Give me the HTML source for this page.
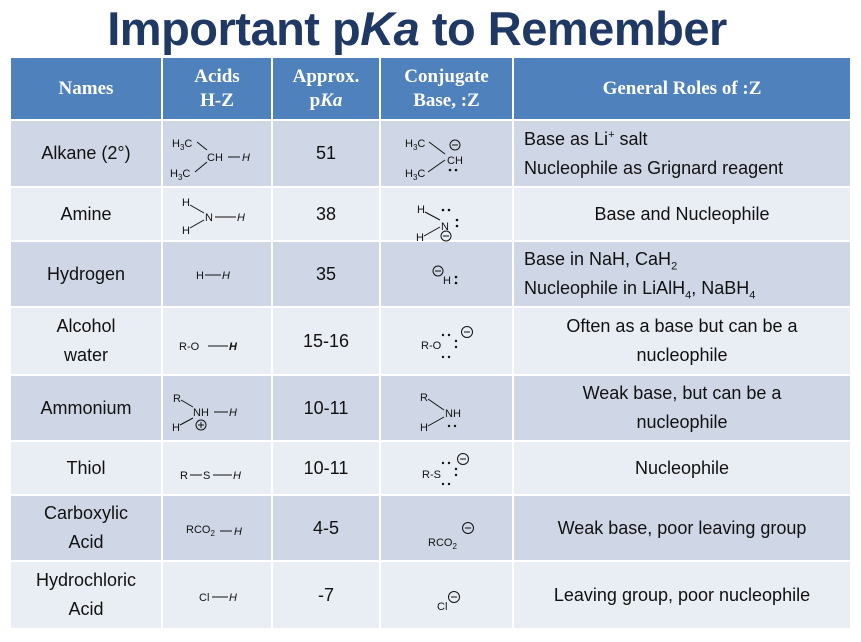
<!DOCTYPE html>
<html><head><meta charset="utf-8">
<style>
body{margin:0;width:861px;height:642px;background:#fff;position:relative;overflow:hidden;font-family:"Liberation Sans",sans-serif;}
.title{position:absolute;left:0;top:1px;width:834px;text-align:center;font-weight:bold;font-size:47px;color:#1f3864;letter-spacing:-0.5px;}
.c{position:absolute;box-sizing:border-box;display:flex;align-items:center;justify-content:center;text-align:center;color:#111;font-size:18px;line-height:29px;}
.c>span{display:block;}
.h{background:#4f81bd;color:#fff;font-family:"Liberation Serif",serif;font-weight:bold;font-size:19px;line-height:24px;}
.d{background:#cfd7e7;}
.l{background:#e9edf4;}
.left{justify-content:flex-start;text-align:left;padding-left:10px;}
sub,sup{font-size:11px;line-height:0;}
svg{position:absolute;left:0;top:0;}
svg text{font-family:"Liberation Sans",sans-serif;font-size:11px;fill:#111;}
</style></head><body>
<div class="title">Important p<i>Ka</i> to Remember</div>
<div id="tbl"></div>
<script>
var cols=[10,162,272,380,513,851];
var rows=[57,120,187,241,307,375,441,495,561,629];
var headers=['Names','Acids<br>H-Z','Approx.<br>p<i>Ka</i>','Conjugate<br>Base, :Z','General Roles of :Z'];
var names=['Alkane (2°)','Amine','Hydrogen','Alcohol<br>water','Ammonium','Thiol','Carboxylic<br>Acid','Hydrochloric<br>Acid'];
var pkas=['51','38','35','15-16','10-11','10-11','4-5','-7'];
var roles=['Base as Li<sup>+</sup> salt<br>Nucleophile as Grignard reagent','Base and Nucleophile','Base in NaH, CaH<sub>2</sub><br>Nucleophile in LiAlH<sub>4</sub>, NaBH<sub>4</sub>','Often as a base but can be a<br>nucleophile','Weak base, but can be a<br>nucleophile','Nucleophile','Weak base, poor leaving group','Leaving group, poor nucleophile'];
var leftRole=[true,false,true,false,false,false,false,false];
var tbl=document.getElementById('tbl');
function cell(ci,ri,html,cls,name){
  var d=document.createElement('div');
  d.className='c '+cls;
  d.style.left=(cols[ci]+1)+'px';d.style.top=(rows[ri]+1)+'px';
  d.style.width=(cols[ci+1]-cols[ci]-2)+'px';d.style.height=(rows[ri+1]-rows[ri]-2)+'px';
  d.innerHTML='<span>'+html+'</span>';
  
  
  tbl.appendChild(d);
}
for(var i=0;i<5;i++)cell(i,0,headers[i],'h','header-cell');
for(var r=0;r<8;r++){
  var bg=(r%2==0)?'d':'l';
  cell(0,r+1,names[r],bg,'name-cell');
  cell(1,r+1,'',bg,'acid-structure-cell');
  cell(2,r+1,pkas[r],bg,'pka-cell');
  cell(3,r+1,'',bg,'base-structure-cell');
  cell(4,r+1,roles[r],bg+(leftRole[r]?' left':''),'role-cell');
}
</script>
<svg width="861" height="642" stroke="#111" stroke-width="1" fill="none">
<text x="172" y="147" stroke="none">H<tspan font-size="8" dy="3">3</tspan><tspan dy="-3">C</tspan></text>
<text x="170" y="177" stroke="none">H<tspan font-size="8" dy="3">3</tspan><tspan dy="-3">C</tspan></text>
<line x1="197" y1="142" x2="207" y2="150"/><line x1="195" y1="172" x2="207" y2="162"/>
<text x="207" y="161" stroke="none">CH</text>
<line x1="228" y1="157" x2="240" y2="157"/>
<text x="242" y="161" stroke="none" font-style="italic">H</text>
<text x="405" y="147" stroke="none">H<tspan font-size="8" dy="3">3</tspan><tspan dy="-3">C</tspan></text>
<text x="405" y="177" stroke="none">H<tspan font-size="8" dy="3">3</tspan><tspan dy="-3">C</tspan></text>
<line x1="429" y1="142" x2="445" y2="154"/><line x1="428" y1="172" x2="445" y2="160"/>
<text x="447" y="164" stroke="none">CH</text>
<circle cx="455" cy="145" r="5"/><line x1="452" y1="145" x2="458" y2="145"/>
<circle cx="450" cy="170" r="1.3" fill="#111" stroke="none"/><circle cx="456" cy="170" r="1.3" fill="#111" stroke="none"/>
<text x="182" y="206" stroke="none">H</text><text x="182" y="234" stroke="none">H</text>
<line x1="190" y1="205" x2="204" y2="213"/><line x1="190" y1="228" x2="204" y2="220"/>
<text x="205" y="221" stroke="none">N</text>
<line x1="215" y1="217" x2="236" y2="217"/>
<text x="237" y="221" stroke="none" font-style="italic">H</text>
<text x="417" y="213" stroke="none">H</text><text x="416" y="241" stroke="none">H</text>
<line x1="425" y1="212" x2="440" y2="220"/><line x1="424" y1="236" x2="440" y2="227"/>
<text x="441" y="230" stroke="none">N</text>
<circle cx="443" cy="210" r="1.3" fill="#111" stroke="none"/><circle cx="449" cy="210" r="1.3" fill="#111" stroke="none"/>
<circle cx="457" cy="220" r="1.3" fill="#111" stroke="none"/><circle cx="457" cy="226" r="1.3" fill="#111" stroke="none"/>
<circle cx="446" cy="236" r="5"/><line x1="443" y1="236" x2="449" y2="236"/>
<text x="196" y="279" stroke="none">H</text><line x1="205" y1="275" x2="221" y2="275"/>
<text x="222" y="279" stroke="none" font-style="italic">H</text>
<circle cx="438" cy="271" r="5"/><line x1="435" y1="271" x2="441" y2="271"/>
<text x="443" y="284" stroke="none">H</text>
<circle cx="456" cy="277" r="1.3" fill="#111" stroke="none"/><circle cx="456" cy="283" r="1.3" fill="#111" stroke="none"/>
<text x="179" y="350" stroke="none">R-O</text><line x1="208" y1="346" x2="228" y2="346"/>
<text x="229" y="350" stroke="none" font-style="italic" font-weight="bold">H</text>
<text x="421" y="349" stroke="none">R-O</text>
<circle cx="443" cy="335" r="1.2" fill="#111" stroke="none"/><circle cx="449" cy="335" r="1.2" fill="#111" stroke="none"/>
<circle cx="443" cy="357" r="1.2" fill="#111" stroke="none"/><circle cx="449" cy="357" r="1.2" fill="#111" stroke="none"/>
<circle cx="456" cy="341" r="1.2" fill="#111" stroke="none"/><circle cx="456" cy="347" r="1.2" fill="#111" stroke="none"/>
<circle cx="467" cy="332" r="5.5"/><line x1="464" y1="332" x2="470" y2="332"/>
<text x="173" y="402" stroke="none">R</text><text x="172" y="431" stroke="none">H</text>
<line x1="181" y1="400" x2="193" y2="407"/><line x1="180" y1="425" x2="193" y2="418"/>
<text x="193" y="416" stroke="none">NH</text><line x1="214" y1="412" x2="228" y2="412"/>
<text x="229" y="416" stroke="none" font-style="italic">H</text>
<circle cx="201" cy="425" r="5"/><line x1="198" y1="425" x2="204" y2="425"/><line x1="201" y1="422" x2="201" y2="428"/>
<text x="420" y="401" stroke="none">R</text><text x="420" y="431" stroke="none">H</text>
<line x1="428" y1="399" x2="444" y2="410"/><line x1="428" y1="426" x2="444" y2="417"/>
<text x="445" y="417" stroke="none">NH</text>
<circle cx="449" cy="426" r="1.2" fill="#111" stroke="none"/><circle cx="455" cy="426" r="1.2" fill="#111" stroke="none"/>
<text x="180" y="479" stroke="none">R</text><line x1="190" y1="475" x2="202" y2="475"/>
<text x="203" y="479" stroke="none">S</text><line x1="213" y1="475" x2="232" y2="475"/>
<text x="233" y="479" stroke="none" font-style="italic">H</text>
<text x="422" y="478" stroke="none">R-S</text>
<circle cx="443" cy="463" r="1.2" fill="#111" stroke="none"/><circle cx="449" cy="463" r="1.2" fill="#111" stroke="none"/>
<circle cx="443" cy="484" r="1.2" fill="#111" stroke="none"/><circle cx="449" cy="484" r="1.2" fill="#111" stroke="none"/>
<circle cx="456" cy="469" r="1.2" fill="#111" stroke="none"/><circle cx="456" cy="475" r="1.2" fill="#111" stroke="none"/>
<circle cx="463" cy="459" r="5.5"/><line x1="460" y1="459" x2="466" y2="459"/>
<text x="186" y="533" stroke="none">RCO<tspan font-size="8" dy="3">2</tspan></text>
<line x1="220" y1="531" x2="232" y2="531"/>
<text x="234" y="535" stroke="none" font-style="italic">H</text>
<text x="428" y="546" stroke="none">RCO<tspan font-size="8" dy="3">2</tspan></text>
<circle cx="468" cy="528" r="5.5"/><line x1="465" y1="528" x2="471" y2="528"/>
<text x="199" y="601" stroke="none">Cl</text><line x1="212" y1="597" x2="228" y2="597"/>
<text x="229" y="601" stroke="none" font-style="italic">H</text>
<text x="437" y="610" stroke="none">Cl</text>
<circle cx="454" cy="597" r="5.5"/><line x1="451" y1="597" x2="457" y2="597"/>
</svg>
</body></html>
